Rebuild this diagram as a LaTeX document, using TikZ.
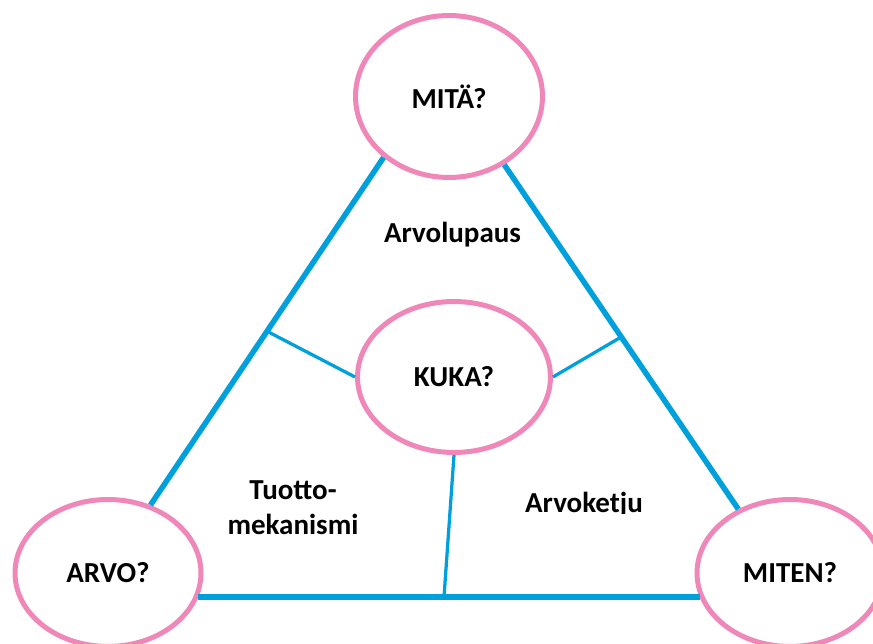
\documentclass[tikz,border=0pt]{standalone}
\usepackage{fontspec}
\setmainfont{Carlito}
\usetikzlibrary{shapes.geometric}
\definecolor{roosa}{RGB}{240,135,185}
\definecolor{sini}{RGB}{0,160,220}

\begin{document}
\begin{tikzpicture}[x=0.02cm, y=-0.02cm]
\tikzset{soikio/.style={draw=roosa, line width=0.1cm, ellipse, fill=white, inner sep=0pt,
  font=\fontsize{16.5}{20}\selectfont\bfseries}}
\tikzset{reuna/.style={draw=sini, line width=0.11cm}}
\tikzset{sisa/.style={draw=sini, line width=0.065cm}}
\tikzset{teksti/.style={font=\fontsize{16.5}{20}\selectfont\bfseries, align=center}}
\clip (0, 0) rectangle (873, 644);
\node[soikio, minimum width=3.74cm, minimum height=3.24cm] (Mita) at (449, 96.5) {MITÄ?};
\node[soikio, minimum width=3.86cm, minimum height=3.02cm] (Kuka) at (454, 377) {KUKA?};
\node[soikio, minimum width=3.72cm, minimum height=2.94cm] (Arvo) at (108, 573) {ARVO?};
\node[soikio, minimum width=3.72cm, minimum height=2.94cm] (Miten) at (790, 573) {MITEN?};
\draw[reuna] (Mita.223) -- coordinate (Vasen) (Arvo.58);
\draw[reuna] (Mita.309) -- coordinate (Oikea) (Miten.129);
\draw[reuna] (Arvo.345) -- coordinate[pos=0.49] (Ala) (Miten.195);
\draw[sisa] (Vasen) -- (Kuka.west);
\draw[sisa] (Oikea) -- (Kuka.east);
\draw[sisa] (Kuka.south) -- (Ala);
\node[teksti, anchor=base] (Lupaus) at (452.5, 243) {Arvolupaus};
\node[teksti] (Tuotto) at (293, 508) {Tuotto-\\mekanismi};
\begin{scope}
\clip (480, 460) rectangle (690, 514);
\node[teksti, anchor=base] (Ketju) at (584, 513) {Arvoketju};
\end{scope}
\end{tikzpicture}
\end{document}
